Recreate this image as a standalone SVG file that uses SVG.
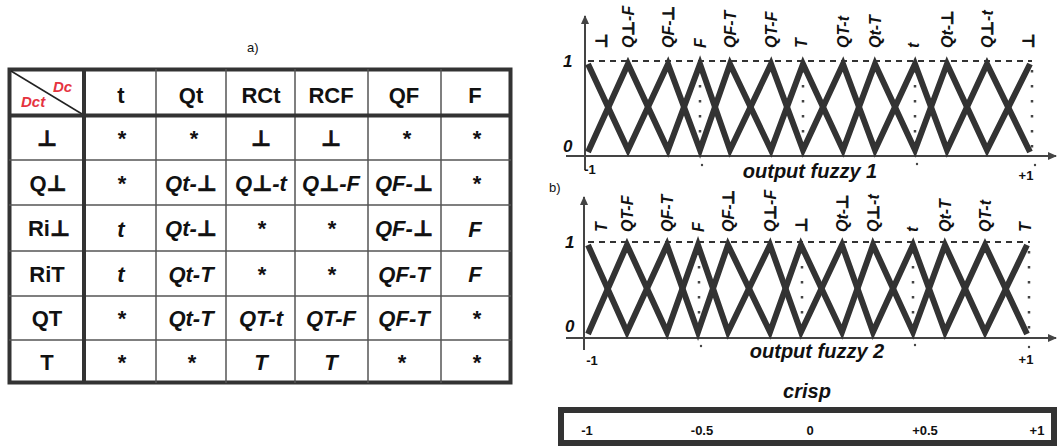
<svg xmlns="http://www.w3.org/2000/svg" width="1058" height="447" viewBox="0 0 1058 447">
<style>
text{font-family:"Liberation Sans","DejaVu Sans",Arial,sans-serif;fill:#111}
.h{font-size:22px;font-weight:bold;text-anchor:middle}
.c{font-size:22px;font-weight:bold;font-style:italic;text-anchor:middle}
.b{stroke:#111;stroke-width:0.7}
.red{font-size:15px;font-weight:bold;font-style:italic;fill:#e5333f}
.lab{font-size:16px;font-weight:bold;font-style:italic}
.ax{font-size:17px;font-weight:bold;font-style:italic}
.tk{font-size:13px;font-weight:bold;text-anchor:middle}
.ttl{font-size:20px;font-weight:bold;font-style:italic;text-anchor:middle}
.sm{font-size:13px}
.thin{stroke:#555;stroke-width:1.5;fill:none}
.thick{stroke:#333;stroke-width:4;fill:none}
.zig{stroke:#333;stroke-width:6;fill:none;stroke-linejoin:miter;stroke-miterlimit:10}
.dash{stroke:#333;stroke-width:2;stroke-dasharray:6 5;fill:none}
.dot{stroke:#444;stroke-width:2.5;stroke-dasharray:2.5 12.5;fill:none}
.axis{stroke:#444;stroke-width:2;fill:none}
</style>
<defs>
<marker id="arr" markerWidth="10" markerHeight="10" refX="8" refY="5" orient="auto" markerUnits="userSpaceOnUse">
<path d="M0,1 L9,5 L0,9 Z" fill="#444"/>
</marker>
</defs>

<text x="247" y="52" class="sm">a)</text>

<g id="table">
<rect x="9.5" y="69.5" width="501" height="313" class="thick" stroke-width="3.5"/>
<g class="thin">
<line x1="156" y1="69" x2="156" y2="383"/>
<line x1="226" y1="69" x2="226" y2="383"/>
<line x1="295" y1="69" x2="295" y2="383"/>
<line x1="368" y1="69" x2="368" y2="383"/>
<line x1="441" y1="69" x2="441" y2="383"/>
<line x1="9" y1="160" x2="511" y2="160"/>
<line x1="9" y1="205" x2="511" y2="205"/>
<line x1="9" y1="251" x2="511" y2="251"/>
<line x1="9" y1="296" x2="511" y2="296"/>
<line x1="9" y1="340" x2="511" y2="340"/>
<line x1="11" y1="71" x2="82" y2="114" stroke="#222"/>
</g>
<line x1="84" y1="69" x2="84" y2="383" class="thick"/>
<line x1="9" y1="115.5" x2="511" y2="115.5" class="thick"/>
<text x="53" y="92" class="red">Dc</text>
<text x="21" y="107" class="red">Dct</text>
<text x="121" y="103" class="h">t</text>
<text x="191" y="103" class="h">Qt</text>
<text x="261" y="103" class="h">RCt</text>
<text x="331" y="103" class="h">RCF</text>
<text x="404" y="103" class="h">QF</text>
<text x="475" y="103" class="h">F</text>

<text x="47" y="146" class="h"><tspan class="b">⊥</tspan></text>
<text x="48" y="191" class="h">Q<tspan class="b">⊥</tspan></text>
<text x="49" y="236" class="h">Ri<tspan class="b">⊥</tspan></text>
<text x="47" y="282" class="h">RiT</text>
<text x="47" y="326" class="h">QT</text>
<text x="47" y="370" class="h">T</text>

<text x="122" y="146" class="h">*</text>
<text x="194" y="146" class="h">*</text>
<text x="261" y="146" class="c"><tspan class="b">⊥</tspan></text>
<text x="331" y="146" class="c"><tspan class="b">⊥</tspan></text>
<text x="407" y="146" class="h">*</text>
<text x="477" y="146" class="h">*</text>

<text x="122" y="191" class="h">*</text>
<text x="191" y="191" class="c">Qt-<tspan class="b">⊥</tspan></text>
<text x="261" y="191" class="c">Q<tspan class="b">⊥</tspan>-t</text>
<text x="331" y="191" class="c">Q<tspan class="b">⊥</tspan>-F</text>
<text x="404" y="191" class="c">QF-<tspan class="b">⊥</tspan></text>
<text x="477" y="191" class="h">*</text>

<text x="121" y="237" class="c">t</text>
<text x="191" y="236" class="c">Qt-<tspan class="b">⊥</tspan></text>
<text x="262" y="236" class="h">*</text>
<text x="332" y="236" class="h">*</text>
<text x="404" y="236" class="c">QF-<tspan class="b">⊥</tspan></text>
<text x="475" y="237" class="c">F</text>

<text x="121" y="282" class="c">t</text>
<text x="191" y="282" class="c">Qt-T</text>
<text x="262" y="282" class="h">*</text>
<text x="332" y="282" class="h">*</text>
<text x="404" y="282" class="c">QF-T</text>
<text x="475" y="282" class="c">F</text>

<text x="122" y="326" class="h">*</text>
<text x="191" y="326" class="c">Qt-T</text>
<text x="261" y="326" class="c">QT-t</text>
<text x="331" y="326" class="c">QT-F</text>
<text x="404" y="326" class="c">QF-T</text>
<text x="477" y="326" class="h">*</text>

<text x="122" y="370" class="h">*</text>
<text x="192" y="370" class="h">*</text>
<text x="261" y="370" class="c">T</text>
<text x="331" y="370" class="c">T</text>
<text x="402" y="370" class="h">*</text>
<text x="477" y="370" class="h">*</text>
</g>

<g id="chart1">
<line x1="585" y1="170" x2="585" y2="16" class="axis" stroke-width="1.5" marker-end="url(#arr)"/>
<line x1="566" y1="156" x2="1056" y2="156" class="axis" marker-end="url(#arr)"/>
<line x1="588" y1="61" x2="1032" y2="61" class="dash"/>
<g class="dot">
<line x1="700" y1="70" x2="700" y2="152"/>
<line x1="803" y1="70" x2="803" y2="152"/>
<line x1="915" y1="70" x2="915" y2="152"/>
<line x1="1032" y1="70" x2="1032" y2="152"/>
</g>
<polyline class="zig" points="588,64 628,150 668,64 700,150 730,64 771,150 803,64 843,150 875,64 915,150 947,64 987,150 1030,64"/>
<polyline class="zig" points="588,152 628,64 668,150 700,64 730,150 771,64 803,150 843,64 875,150 915,64 947,150 987,64 1030,152"/>
<g fill="#444">
<circle cx="702" cy="165" r="1.2"/><circle cx="917" cy="164" r="1.2"/><circle cx="1035" cy="165" r="1.2"/>
</g>
<text x="563" y="67" class="ax">1</text>
<text x="563" y="152" class="ax">0</text>
<text x="590" y="174" class="tk">-1</text>
<text x="1026" y="180" class="tk">+1</text>
<text x="810" y="178" class="ttl">output fuzzy 1</text>
<g class="lab">
<text transform="translate(607,48) rotate(-90)"><tspan class="b">⊥</tspan></text>
<text transform="translate(634,48) rotate(-90)">Q<tspan class="b">⊥</tspan>-F</text>
<text transform="translate(674,48) rotate(-90)">QF-<tspan class="b">⊥</tspan></text>
<text transform="translate(706,48) rotate(-90)">F</text>
<text transform="translate(736,48) rotate(-90)">QF-T</text>
<text transform="translate(777,48) rotate(-90)">QT-F</text>
<text transform="translate(807,48) rotate(-90)">T</text>
<text transform="translate(849,48) rotate(-90)">QT-t</text>
<text transform="translate(881,48) rotate(-90)">Qt-T</text>
<text transform="translate(919,48) rotate(-90)">t</text>
<text transform="translate(953,48) rotate(-90)">Qt-<tspan class="b">⊥</tspan></text>
<text transform="translate(993,48) rotate(-90)">Q<tspan class="b">⊥</tspan>-t</text>
<text transform="translate(1034,48) rotate(-90)"><tspan class="b">⊥</tspan></text>
</g>
</g>

<text x="549" y="192" class="sm">b)</text>

<g id="chart2">
<line x1="584" y1="350" x2="584" y2="197" class="axis" stroke-width="1.5" marker-end="url(#arr)"/>
<line x1="566" y1="338" x2="1056" y2="338" class="axis" marker-end="url(#arr)"/>
<line x1="588" y1="242" x2="1030" y2="242" class="dash"/>
<g class="dot">
<line x1="699" y1="251" x2="699" y2="334"/>
<line x1="802" y1="251" x2="802" y2="334"/>
<line x1="913" y1="251" x2="913" y2="334"/>
<line x1="1029" y1="251" x2="1029" y2="334"/>
</g>
<polyline class="zig" points="588,245 627,332 667,245 698,332 728,245 770,332 801,245 842,332 873,245 913,332 945,245 985,332 1027,245"/>
<polyline class="zig" points="588,334 627,245 667,332 698,245 728,332 770,245 801,332 842,245 873,332 913,245 945,332 985,245 1027,334"/>
<g fill="#444">
<circle cx="701" cy="346" r="1.2"/><circle cx="915" cy="345" r="1.2"/><circle cx="1029" cy="347" r="1.2"/>
</g>
<text x="565" y="248" class="ax">1</text>
<text x="565" y="332" class="ax">0</text>
<text x="592" y="365" class="tk">-1</text>
<text x="1026" y="364" class="tk">+1</text>
<text x="817" y="358" class="ttl">output fuzzy 2</text>
<g class="lab">
<text transform="translate(607,232) rotate(-90)">T</text>
<text transform="translate(633,232) rotate(-90)">QT-F</text>
<text transform="translate(673,232) rotate(-90)">QF-T</text>
<text transform="translate(704,232) rotate(-90)">F</text>
<text transform="translate(734,232) rotate(-90)">QF-<tspan class="b">⊥</tspan></text>
<text transform="translate(776,232) rotate(-90)">Q<tspan class="b">⊥</tspan>-F</text>
<text transform="translate(807,232) rotate(-90)"><tspan class="b">⊥</tspan></text>
<text transform="translate(848,232) rotate(-90)">Qt-<tspan class="b">⊥</tspan></text>
<text transform="translate(879,232) rotate(-90)">Q<tspan class="b">⊥</tspan>-t</text>
<text transform="translate(918,232) rotate(-90)">t</text>
<text transform="translate(951,232) rotate(-90)">Qt-T</text>
<text transform="translate(991,232) rotate(-90)">QT-t</text>
<text transform="translate(1031,232) rotate(-90)">T</text>
</g>
</g>

<g id="crisp">
<text x="807" y="398" class="ttl" font-size="19">crisp</text>
<rect x="561" y="410" width="493" height="33" fill="#fff" stroke="#333" stroke-width="6"/>
<g class="tk" font-size="14">
<text x="587" y="435">-1</text>
<text x="702" y="435">-0.5</text>
<text x="810" y="435">0</text>
<text x="925" y="435">+0.5</text>
<text x="1037" y="435">+1</text>
</g>
</g>
</svg>
